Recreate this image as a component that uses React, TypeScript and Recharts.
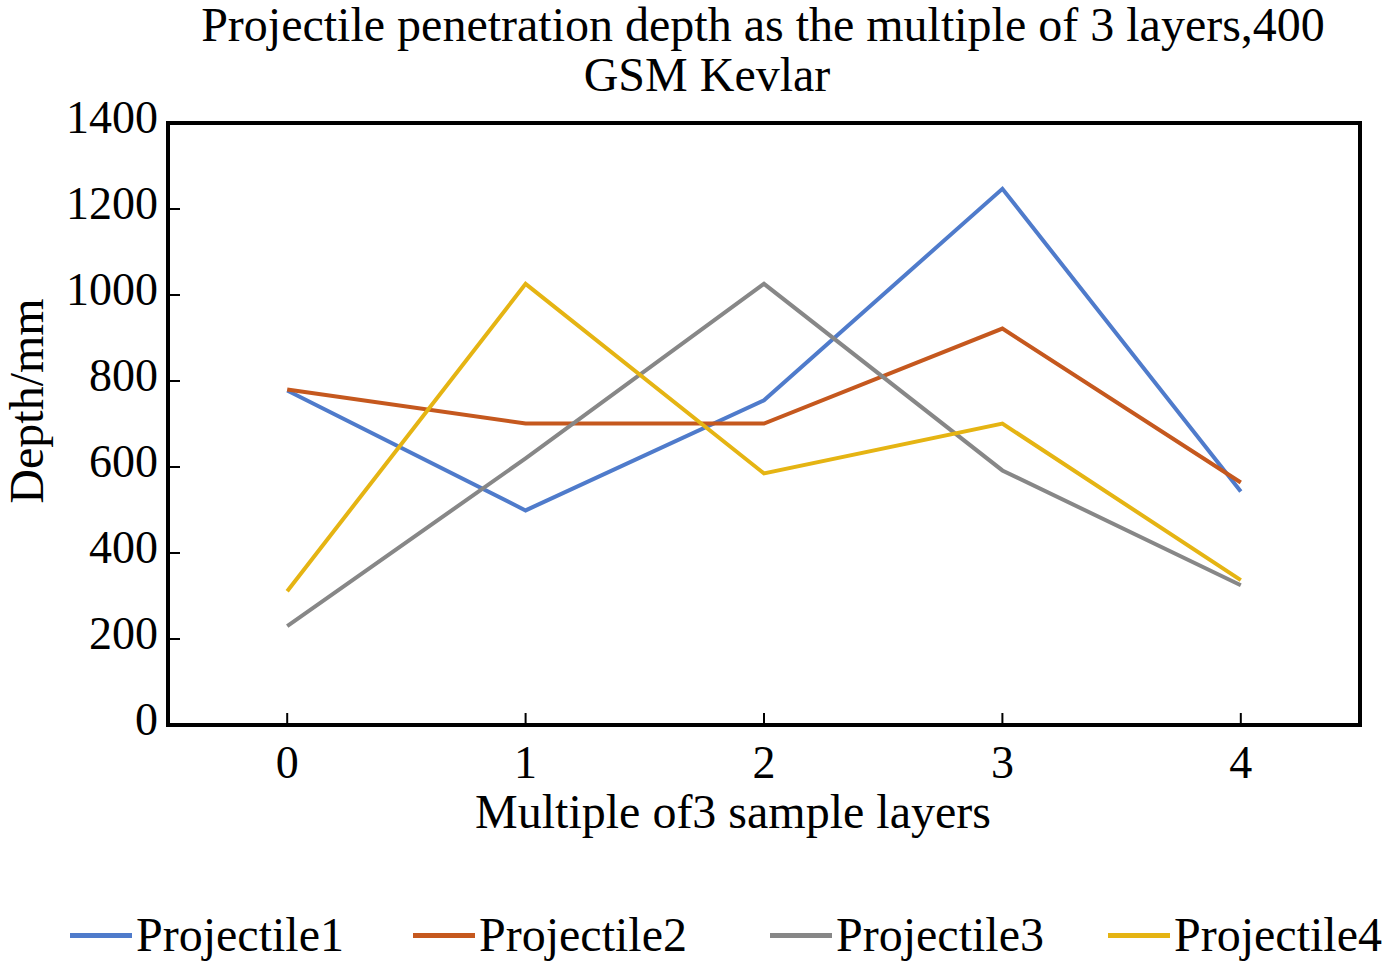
import React from 'react';
import { LineChart, Line, XAxis, YAxis, ReferenceArea, Legend } from 'recharts';

const layers = [0, 1, 2, 3, 4];
const projectile1 = [778, 499, 755, 1247, 543];
const projectile2 = [780, 701, 701, 922, 564];
const projectile3 = [230, 620, 1026, 592, 325];
const projectile4 = [311, 1026, 585, 701, 337];
const yTicks = [0, 200, 400, 600, 800, 1000, 1200, 1400];

const series = [
  { key: 'Projectile1', color: '#4F7BCB' },
  { key: 'Projectile2', color: '#C5581E' },
  { key: 'Projectile3', color: '#878787' },
  { key: 'Projectile4', color: '#E5B413' },
];

const data = layers.map((x, i) => ({
  x,
  Projectile1: projectile1[i],
  Projectile2: projectile2[i],
  Projectile3: projectile3[i],
  Projectile4: projectile4[i],
}));

const FONT = '"Liberation Serif", "Times New Roman", serif';
const legendX = [70, 413, 770, 1108];

const renderLegend = () => (
  <div style={{ position: 'relative', width: 1386, height: 0 }}>
    {series.map((s, i) => (
      <div
        key={s.key}
        style={{
          position: 'absolute',
          left: legendX[i],
          top: 0,
          display: 'flex',
          alignItems: 'center',
          fontFamily: FONT,
          fontSize: 48,
          lineHeight: '56px',
          whiteSpace: 'nowrap',
          color: '#000',
        }}
      >
        <span style={{ display: 'inline-block', width: 62, height: 5, background: s.color, marginRight: 4 }} />
        {s.key}
      </div>
    ))}
  </div>
);

const App: React.FC = () => {
  return (
    <div style={{ position: 'absolute', left: 0, top: 0, width: 1386, height: 965, background: '#fff' }}>
      <div
        style={{
          position: 'absolute', left: 0, width: 1386, top: 0, textAlign: 'center',
          fontFamily: FONT, fontSize: 48, lineHeight: '50px', color: '#000',
        }}
      >
        <div style={{ transform: 'translateX(70px)' }}>Projectile penetration depth as the multiple of 3 layers,400</div>
        <div style={{ transform: 'translateX(14px)' }}>GSM Kevlar</div>
      </div>
      <LineChart
        width={1386}
        height={965}
        data={data}
        margin={{ top: 123, right: 26, bottom: 130, left: 0 }}
        style={{ fontFamily: FONT }}
      >
        <XAxis
          dataKey="x"
          type="number"
          domain={[-0.5, 4.5]}
          ticks={layers}
          height={110}
          tickSize={-12}
          tickMargin={32}
          tickLine={{ stroke: '#000', strokeWidth: 2 }}
          axisLine={{ stroke: '#000', strokeWidth: 4 }}
          tick={{ fill: '#000', fontSize: 46 }}
          label={{
            content: () => (
              <text x={733} y={828} textAnchor="middle" fill="#000" fontSize={48} fontFamily={FONT}>
                Multiple of3 sample layers
              </text>
            ),
          }}
        />
        <YAxis
          type="number"
          domain={[0, 1400]}
          ticks={yTicks}
          width={168}
          tickSize={-12}
          tickMargin={22}
          tickLine={{ stroke: '#000', strokeWidth: 2 }}
          axisLine={{ stroke: '#000', strokeWidth: 4 }}
          tick={{ fill: '#000', fontSize: 46, dy: -6 }}
          label={{
            content: () => (
              <text
                x={0}
                y={0}
                transform="translate(43 401) rotate(-90)"
                textAnchor="middle"
                fill="#000"
                fontSize={48}
                fontFamily={FONT}
              >
                Depth/mm
              </text>
            ),
          }}
        />
        <ReferenceArea x1={-0.5} x2={4.5} y1={0} y2={1400} fill="none" stroke="#000" strokeWidth={4} />
        {series.map((s) => (
          <Line
            key={s.key}
            dataKey={s.key}
            stroke={s.color}
            strokeWidth={4}
            dot={false}
            activeDot={false}
            isAnimationActive={false}
          />
        ))}
        <Legend
          content={renderLegend}
          wrapperStyle={{ position: 'absolute', left: 0, top: 907, width: 1386, height: 0 }}
        />
      </LineChart>
    </div>
  );
};

export default App;
